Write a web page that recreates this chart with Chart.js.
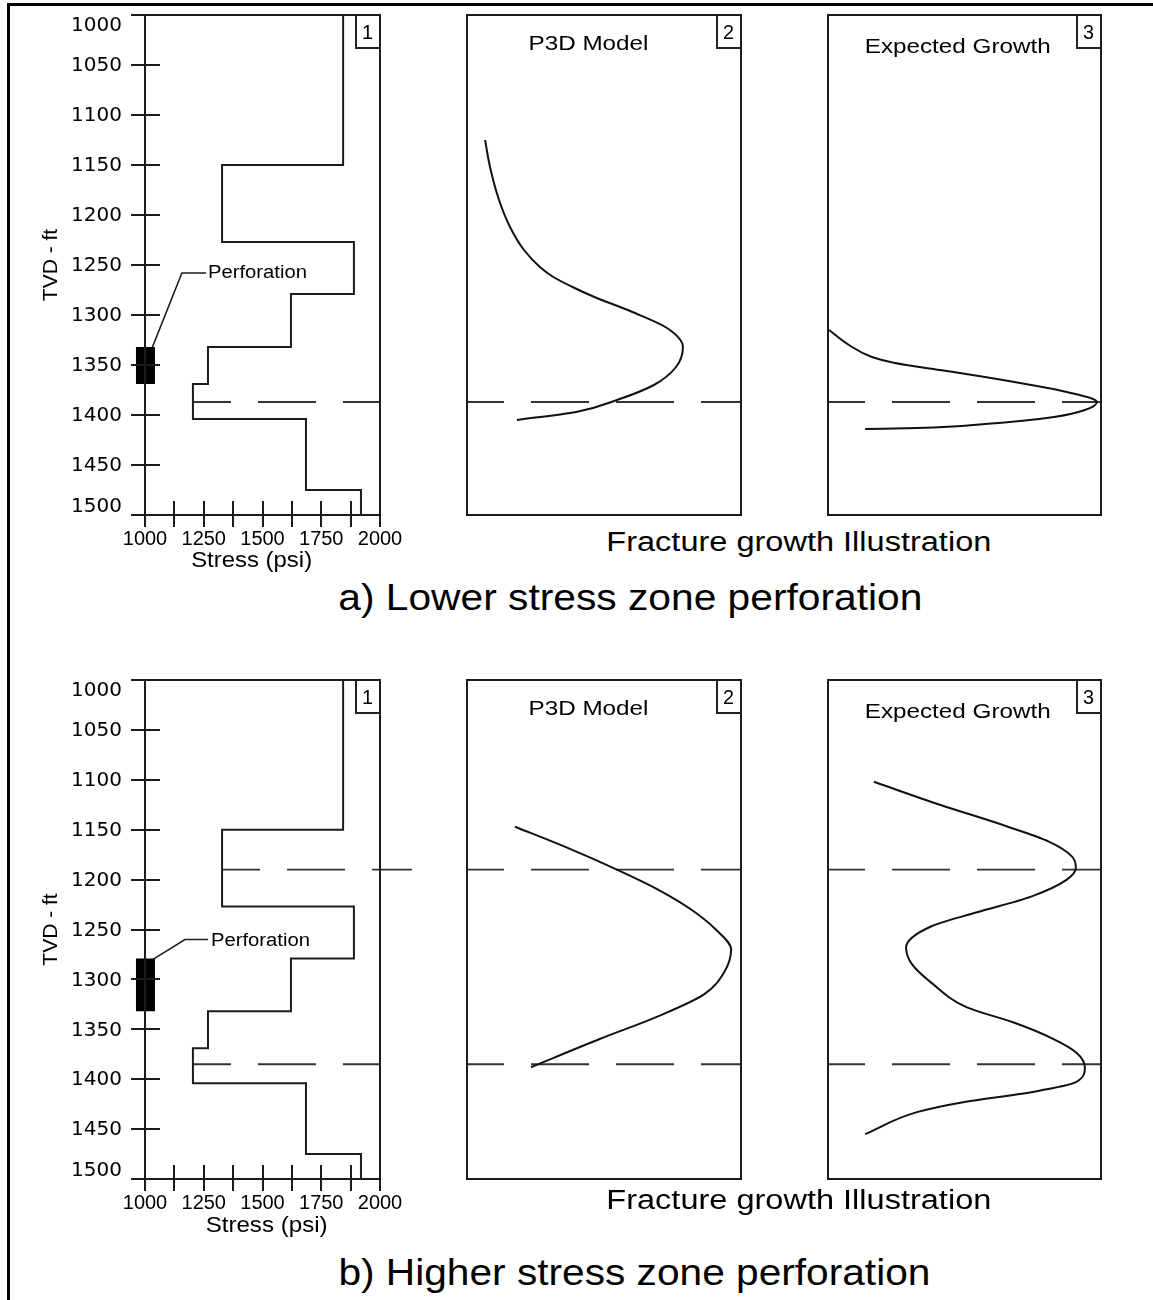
<!DOCTYPE html>
<html>
<head>
<meta charset="utf-8">
<script src="https://cdn.jsdelivr.net/npm/chart.js@4.4.0/dist/chart.umd.min.js"></script>
<style>
html,body{margin:0;padding:0;background:#fff;}
body{width:1153px;height:1300px;position:relative;overflow:hidden;font-family:"Liberation Sans",Arial,sans-serif;color:#000;}
canvas{position:absolute;}
.t{position:absolute;white-space:nowrap;line-height:1;color:#000;}
.nb{position:absolute;box-sizing:border-box;border-left:2px solid #222;border-bottom:2px solid #222;}
#frame{position:absolute;left:7px;top:3px;width:1146px;height:1297px;border-top:3px solid #000;border-left:3px solid #000;box-sizing:border-box;}
</style>
</head>
<body>
<div id="frame"></div>
<script>
// ---------------- DATA ----------------
// Stress profile (same in both cases): layer boundaries (TVD, ft) and stress (psi) per layer
const depthBounds  = [1000, 1150, 1227, 1279, 1332, 1369, 1404, 1475, 1500];
const stressValues = [1843, 1328, 1889, 1621, 1268, 1204, 1685, 1919];
const stressTickLabels = [1000, 1250, 1500, 1750, 2000];
const depthTickLabels  = [1000, 1050, 1100, 1150, 1200, 1250, 1300, 1350, 1400, 1450, 1500];

// Perforation intervals (TVD, ft)
const perfA = [1332, 1369];
const perfB = [1279, 1332];
// Perforation leader lines (stress psi, TVD ft)
const leaderStressA = [1030, 1157, 1260];
const leaderDepthA  = [1333, 1258, 1258];
const leaderStressB = [1034, 1170, 1268];
const leaderDepthB  = [1280, 1260, 1260];

// Dashed reference depths and their right end (psi) in the stress track
const dashDepthA = [1387];
const dashEndA   = [2000];
const dashDepthB = [1190, 1385];
const dashEndB   = [2136, 2000];

// a) P3D model fracture width profile (relative width 0-100 vs TVD)
const p3dDepthA = [1125, 1152, 1185, 1212, 1235, 1252, 1262, 1272, 1282, 1298, 1313, 1332, 1352, 1370, 1385, 1397, 1405];
const p3dWidthA = [6.6, 8.4, 11.7, 15.7, 20.8, 26.6, 31.5, 38.5, 46.5, 61.3, 73.0, 78.8, 76.3, 68.2, 54.7, 39.8, 18.2];
// a) Expected growth
const growthDepthA = [1315, 1330, 1342, 1348, 1355, 1362, 1370, 1377, 1387, 1395, 1402, 1409, 1413, 1414];
const growthWidthA = [0.4, 7.7, 16.1, 24.5, 41.0, 57.5, 74.4, 87.5, 98.5, 94.1, 82.8, 57.5, 32.6, 13.6];

// b) P3D model
const p3dDepthB = [1147, 1168, 1190, 1210, 1230, 1250, 1270, 1293, 1315, 1337, 1360, 1388];
const p3dWidthB = [17.5, 36.5, 54.7, 69.7, 81.8, 90.8, 96.4, 93.8, 86.5, 69.7, 48.2, 23.4];
// b) Expected growth
const growthDepthB = [1102, 1125, 1147, 1162, 1177, 1188, 1200, 1217, 1233, 1247, 1268, 1285, 1303, 1328, 1343, 1360, 1373, 1388, 1403, 1413, 1423, 1433, 1455];
const growthWidthB = [16.8, 41.0, 65.9, 80.9, 89.4, 90.8, 87.5, 74.4, 54.2, 37.7, 28.6, 30.8, 37.7, 50.9, 67.8, 82.8, 90.8, 94.1, 90.8, 74.4, 49.5, 32.6, 13.6];

// ---------------- HELPERS ----------------
const SANS = '"Liberation Sans", Arial, sans-serif';
const INK = '#1c1c1c';

function stressAt(d) {
  for (let i = 0; i < stressValues.length; i++) {
    if (d >= depthBounds[i] && d < depthBounds[i + 1]) return stressValues[i];
  }
  return stressValues[stressValues.length - 1];
}

function makeCanvas(left, top, w, h) {
  const c = document.createElement('canvas');
  c.width = w; c.height = h;
  c.style.left = left + 'px'; c.style.top = top + 'px';
  c.style.width = w + 'px'; c.style.height = h + 'px';
  document.body.appendChild(c);
  return c;
}

const frameAndTicks = {
  id: 'frameAndTicks',
  afterDatasetsDraw(chart, args, opts) {
    const ctx = chart.ctx, a = chart.chartArea;
    ctx.save();
    ctx.strokeStyle = INK;
    ctx.lineWidth = 2;
    ctx.strokeRect(a.left, a.top, a.right - a.left, a.bottom - a.top);
    if (opts.ticks) {
      const xs = chart.scales.x, ys = chart.scales.y;
      ctx.beginPath();
      xs.ticks.forEach(t => {
        const px = Math.round(xs.getPixelForValue(t.value));
        ctx.moveTo(px, a.bottom - 14); ctx.lineTo(px, a.bottom + 12);
      });
      ys.ticks.forEach(t => {
        const py = Math.round(ys.getPixelForValue(t.value));
        ctx.moveTo(a.left - 14, py); ctx.lineTo(a.left + 15, py);
      });
      ctx.stroke();
      // depth tick labels (top/bottom labels pulled inside the track, as in the original)
      ctx.fillStyle = '#000';
      ctx.font = '20px "DejaVu Sans"';
      ctx.textAlign = 'right';
      ctx.textBaseline = 'middle';
      ys.ticks.forEach(t => {
        if (!depthTickLabels.includes(t.value)) return;
        let py = ys.getPixelForValue(t.value);
        if (t.value === ys.min) py += 9.5;
        if (t.value === ys.max) py -= 9;
        ctx.fillText(String(t.value), a.left - 23, py + 1);
      });
    }
    ctx.restore();
  }
};

function baseOpts(padding) {
  return {
    responsive: false,
    animation: false,
    events: [],
    layout: { padding },
    plugins: { legend: { display: false }, tooltip: { enabled: false } },
    elements: { point: { radius: 0, hoverRadius: 0 } }
  };
}

function stressTrack(canvas, perf, lx, ly, dDepths, dEnds) {
  const steps = [];
  for (let i = 0; i < stressValues.length; i++) {
    steps.push({ x: stressValues[i], y: depthBounds[i] });
    steps.push({ x: stressValues[i], y: depthBounds[i + 1] });
  }
  const datasets = [
    { data: steps, showLine: true, borderColor: INK, borderWidth: 2, tension: 0 },
    { data: [{ x: 1002, y: perf[0] }, { x: 1002, y: perf[1] }], showLine: true,
      borderColor: '#000', borderWidth: 19, borderCapStyle: 'butt', clip: false },
    { data: lx.map((v, i) => ({ x: v, y: ly[i] })), showLine: true, borderColor: INK, borderWidth: 1.6, clip: false }
  ];
  dDepths.forEach((d, i) => {
    datasets.push({ data: [{ x: stressAt(d), y: d }, { x: dEnds[i], y: d }], showLine: true,
      borderColor: '#333', borderWidth: 1.8, borderDash: [58, 27], borderDashOffset: 20, clip: false });
  });
  const opts = baseOpts({ left: 0, top: 15, right: 40, bottom: 5 });
  opts.plugins.frameAndTicks = { ticks: true };
  opts.scales = {
    x: {
      type: 'linear', position: 'bottom', min: 1000, max: 2000,
      grid: { display: false, drawTicks: false }, border: { display: false },
      ticks: {
        stepSize: 125, autoSkip: false, maxRotation: 0, minRotation: 0, padding: 12, color: '#000',
        font: { family: SANS, size: 20 },
        callback: v => stressTickLabels.includes(v) ? String(v) : ''
      },
      afterFit: s => { s.height = 50; }
    },
    y: {
      type: 'linear', position: 'left', min: 1000, max: 1500, reverse: true,
      grid: { display: false, drawTicks: false }, border: { display: false },
      ticks: { stepSize: 50, display: false },
      title: { display: true, text: 'TVD - ft', color: '#000', font: { family: SANS, size: 21 }, padding: { top: 19, bottom: 0 } },
      afterFit: s => { s.width = 125; }
    }
  };
  return new Chart(canvas, { type: 'scatter', data: { datasets }, options: opts, plugins: [frameAndTicks] });
}

function growthTrack(canvas, depth, width, dDepths) {
  const datasets = [
    { data: depth.map((d, i) => ({ x: width[i], y: d })), showLine: true, borderColor: '#111', borderWidth: 2,
      indexAxis: 'y', cubicInterpolationMode: 'monotone' }
  ];
  dDepths.forEach(d => {
    datasets.push({ data: [{ x: 0, y: d }, { x: 100, y: d }], showLine: true,
      borderColor: '#333', borderWidth: 1.8, borderDash: [58, 27], borderDashOffset: 21 });
  });
  const opts = baseOpts(10);
  opts.plugins.frameAndTicks = { ticks: false };
  opts.scales = {
    x: { type: 'linear', display: false, min: 0, max: 100 },
    y: { type: 'linear', display: false, min: 1000, max: 1500, reverse: true }
  };
  return new Chart(canvas, { type: 'scatter', data: { datasets }, options: opts, plugins: [frameAndTicks] });
}

function addText(txt, x, cy, size, targetW, anchor) {
  const d = document.createElement('div');
  d.className = 't';
  d.textContent = txt;
  d.style.fontSize = size + 'px';
  document.body.appendChild(d);
  const w = d.getBoundingClientRect().width;
  const s = targetW / w;
  d.style.top = (cy - size / 2) + 'px';
  if (anchor === 'left') {
    d.style.left = x + 'px';
    d.style.transformOrigin = '0 50%';
  } else {
    d.style.left = (x - w / 2) + 'px';
    d.style.transformOrigin = '50% 50%';
  }
  d.style.transform = 'scaleX(' + s.toFixed(4) + ')';
}

function numBox(n, left, top) {
  const b = document.createElement('div');
  b.className = 'nb';
  b.style.left = left + 'px'; b.style.top = top + 'px';
  b.style.width = '26px'; b.style.height = '34px';
  document.body.appendChild(b);
  addText(String(n), left + 13, top + 17, 20, 11, 'center');
}

// ---------------- ROW A ----------------
stressTrack(makeCanvas(20, 0, 400, 570), perfA, leaderStressA, leaderDepthA, dashDepthA, dashEndA);
growthTrack(makeCanvas(457, 5, 294, 520), p3dDepthA, p3dWidthA, dashDepthA);
growthTrack(makeCanvas(818, 5, 293, 520), growthDepthA, growthWidthA, dashDepthA);

// ---------------- ROW B ----------------
stressTrack(makeCanvas(20, 665, 400, 569), perfB, leaderStressB, leaderDepthB, dashDepthB, dashEndB);
growthTrack(makeCanvas(457, 670, 294, 519), p3dDepthB, p3dWidthB, dashDepthB);
growthTrack(makeCanvas(818, 670, 293, 519), growthDepthB, growthWidthB, dashDepthB);

// ---------------- TEXT ----------------
numBox(1, 355, 15);  numBox(2, 716, 15);  numBox(3, 1076, 15);
numBox(1, 355, 680); numBox(2, 716, 680); numBox(3, 1076, 680);

addText('P3D Model', 588, 43, 20, 120);
addText('Expected Growth', 958, 46, 20, 186);
addText('P3D Model', 588, 708, 20, 120);
addText('Expected Growth', 958, 711, 20, 186);

addText('Perforation', 208, 272, 18, 99, 'left');
addText('Perforation', 211, 940, 18, 99, 'left');

addText('Stress (psi)', 252, 560, 22, 121);
addText('Stress (psi)', 267, 1225, 22, 122);

addText('Fracture growth Illustration', 799, 542, 27, 385);
addText('Fracture growth Illustration', 799, 1200, 27, 385);

addText('a) Lower stress zone perforation', 630, 597, 37, 584);
addText('b) Higher stress zone perforation', 634, 1272, 37, 592);
</script>
</body>
</html>
